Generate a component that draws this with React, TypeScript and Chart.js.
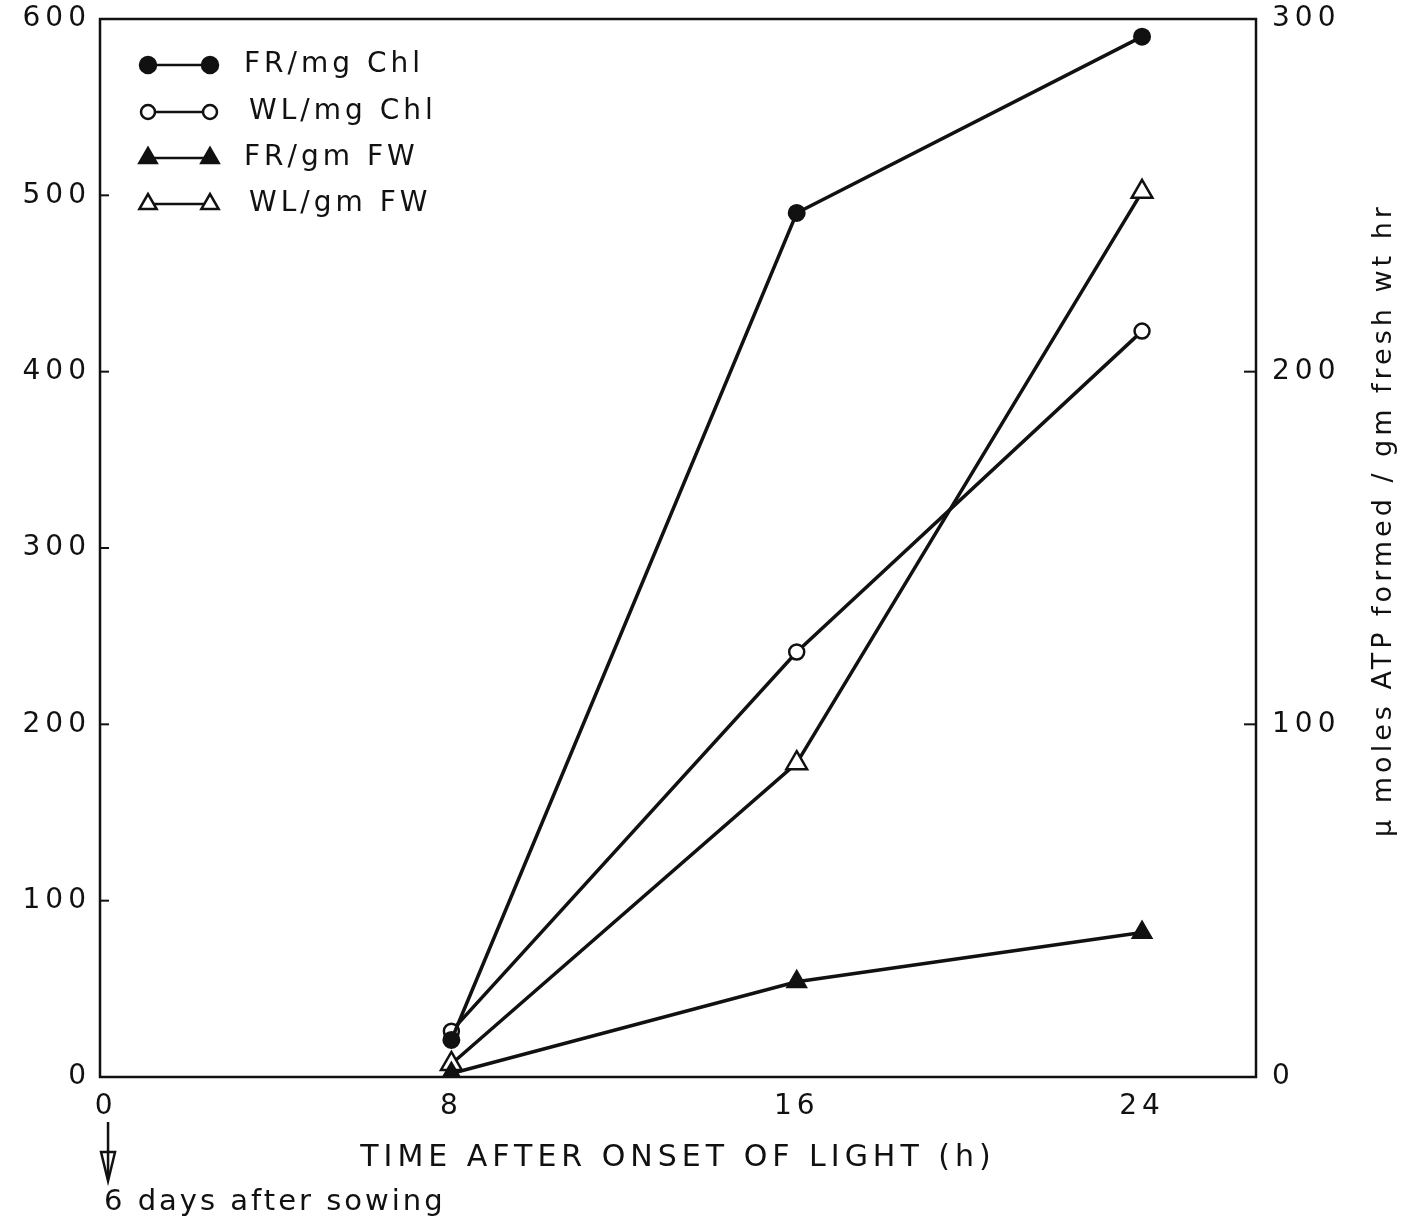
import React, { useEffect, useRef } from "react";
import { Chart, registerables } from "chart.js";

Chart.register(...registerables);

// ---- data ----
const hours = [8, 16, 24];
const frPerChl = [21, 490, 590]; // left axis
const wlPerChl = [26, 241, 423]; // left axis
const frPerFW = [1, 27, 41]; // right axis
const wlPerFW = [3.7, 89, 251]; // right axis
const seriesLabels = ["FR/mg Chl", "WL/mg Chl", "FR/gm FW", "WL/gm FW"];
const xTicks = [0, 8, 16, 24];
const leftTicks = [0, 100, 200, 300, 400, 500, 600];
const rightTicks = [0, 100, 200, 300];
const xTitle = "TIME AFTER ONSET OF LIGHT (h)";
const rightTitle = "\u03BC moles ATP formed / gm fresh wt hr";
const noteText = "6 days after sowing";

const FAMILY = "'DejaVu Sans', sans-serif";
const INK = "#111";

function drawMarker(ctx: CanvasRenderingContext2D, style: string, filled: boolean, x: number, y: number, r: number) {
  ctx.beginPath();
  if (style === "circle") {
    ctx.arc(x, y, r, 0, Math.PI * 2);
  } else {
    const edge = (3 * r) / Math.sqrt(3);
    const h = (edge * Math.sqrt(3)) / 2;
    ctx.moveTo(x - edge / 2, y + h / 3);
    ctx.lineTo(x + edge / 2, y + h / 3);
    ctx.lineTo(x, y - (2 * h) / 3);
    ctx.closePath();
  }
  ctx.fillStyle = filled ? INK : "#fff";
  ctx.fill();
  ctx.lineWidth = 2.5;
  ctx.strokeStyle = INK;
  ctx.stroke();
}

const legendStyles = [
  { style: "circle", filled: true, r: 8 },
  { style: "circle", filled: false, r: 7 },
  { style: "triangle", filled: true, r: 10 },
  { style: "triangle", filled: false, r: 10 },
];

const noPad = (s: any) => {
  s.paddingTop = 0;
  s.paddingBottom = 0;
  s.paddingLeft = 0;
  s.paddingRight = 0;
};

const decorPlugin = {
  id: "decor",
  beforeDraw(chart: any) {
    const ctx = chart.ctx;
    ctx.save();
    ctx.fillStyle = "#fff";
    ctx.fillRect(0, 0, chart.width, chart.height);
    ctx.restore();
    ctx.letterSpacing = "5px";
  },
  beforeDatasetsDraw(chart: any) {
    const { ctx, chartArea } = chart;
    const { left, right, top, bottom } = chartArea;
    ctx.save();
    ctx.strokeStyle = INK;
    ctx.lineWidth = 2.5;
    ctx.strokeRect(left, top, right - left, bottom - top);
    const yl = chart.scales.y;
    const yr = chart.scales.y1;
    ctx.lineWidth = 2;
    leftTicks.forEach((v) => {
      const py = yl.getPixelForValue(v);
      ctx.beginPath();
      ctx.moveTo(left, py);
      ctx.lineTo(left + 9, py);
      ctx.stroke();
    });
    rightTicks.forEach((v) => {
      const py = yr.getPixelForValue(v);
      ctx.beginPath();
      ctx.moveTo(right, py);
      ctx.lineTo(right - 12, py);
      ctx.stroke();
    });
    ctx.restore();
  },
  afterDraw(chart: any) {
    const { ctx } = chart;
    ctx.save();
    // legend
    const rowsY = [65, 112, 158, 204];
    const x1 = 148;
    const x2 = 210;
    seriesLabels.forEach((label, i) => {
      const y = rowsY[i];
      const st = legendStyles[i];
      ctx.strokeStyle = INK;
      ctx.lineWidth = 2.5;
      ctx.beginPath();
      ctx.moveTo(x1, y);
      ctx.lineTo(x2, y);
      ctx.stroke();
      drawMarker(ctx, st.style, st.filled, x1, y, st.r);
      drawMarker(ctx, st.style, st.filled, x2, y, st.r);
      ctx.fillStyle = INK;
      ctx.font = `28px ${FAMILY}`;
      (ctx as any).letterSpacing = "4px";
      ctx.textAlign = "left";
      ctx.textBaseline = "middle";
      ctx.fillText(label, i % 2 === 1 ? 249 : 244, y);
    });
    // right axis title (reads bottom to top)
    ctx.save();
    ctx.translate(1391, 520);
    ctx.rotate(-Math.PI / 2);
    ctx.font = `27px ${FAMILY}`;
    (ctx as any).letterSpacing = "4px";
    ctx.textAlign = "center";
    ctx.textBaseline = "alphabetic";
    ctx.fillStyle = INK;
    ctx.fillText(rightTitle, 0, 0);
    ctx.restore();
    // arrow from x=0 to note
    const x0 = chart.scales.x.getPixelForValue(0) + 2;
    ctx.strokeStyle = INK;
    ctx.lineWidth = 2.5;
    ctx.beginPath();
    ctx.moveTo(x0, 1122);
    ctx.lineTo(x0, 1176);
    ctx.stroke();
    ctx.beginPath();
    ctx.moveTo(x0 - 7, 1152);
    ctx.lineTo(x0 + 7, 1152);
    ctx.lineTo(x0, 1181);
    ctx.closePath();
    ctx.stroke();
    ctx.font = `29px ${FAMILY}`;
    (ctx as any).letterSpacing = "3px";
    ctx.textAlign = "left";
    ctx.textBaseline = "alphabetic";
    ctx.fillStyle = INK;
    ctx.fillText(noteText, 104, 1210);
    ctx.restore();
  },
};

export default function App() {
  const ref = useRef<HTMLCanvasElement | null>(null);
  useEffect(() => {
    if (!ref.current) return;
    const mk = (arr: number[]) => hours.map((h, i) => ({ x: h, y: arr[i] }));
    const tickFont = { family: FAMILY, size: 28 };
    const chart = new Chart(ref.current, {
      type: "line",
      data: {
        datasets: [
          {
            label: seriesLabels[0],
            data: mk(frPerChl),
            yAxisID: "y",
            borderColor: INK,
            borderWidth: 3.5,
            pointStyle: "circle",
            pointRadius: 8,
            pointBackgroundColor: INK,
            pointBorderColor: INK,
            pointBorderWidth: 2,
          },
          {
            label: seriesLabels[1],
            data: mk(wlPerChl),
            yAxisID: "y",
            borderColor: INK,
            borderWidth: 3.5,
            pointStyle: "circle",
            pointRadius: 7.5,
            pointBackgroundColor: "#fff",
            pointBorderColor: INK,
            pointBorderWidth: 2.5,
          },
          {
            label: seriesLabels[2],
            data: mk(frPerFW),
            yAxisID: "y1",
            borderColor: INK,
            borderWidth: 3.5,
            pointStyle: "triangle",
            pointRadius: 11,
            pointBackgroundColor: INK,
            pointBorderColor: INK,
            pointBorderWidth: 2,
          },
          {
            label: seriesLabels[3],
            data: mk(wlPerFW),
            yAxisID: "y1",
            borderColor: INK,
            borderWidth: 3.5,
            pointStyle: "triangle",
            pointRadius: 12,
            pointBackgroundColor: "#fff",
            pointBorderColor: INK,
            pointBorderWidth: 2.5,
          },
        ],
      },
      options: {
        animation: false,
        responsive: false,
        maintainAspectRatio: false,
        layout: { padding: { top: 19, left: 0, right: 0, bottom: 0 } },
        plugins: { legend: { display: false }, tooltip: { enabled: false } },
        elements: { line: { tension: 0 } },
        scales: {
          x: {
            type: "linear",
            min: -0.14,
            max: 26.64,
            afterBuildTicks: (s: any) => {
              s.ticks = xTicks.map((v) => ({ value: v }));
            },
            afterFit: (s: any) => {
              s.height = 142;
              noPad(s);
            },
            grid: { display: false, drawTicks: false },
            border: { display: false },
            ticks: { font: tickFont, color: INK, padding: 13, maxRotation: 0, autoSkip: false },
            title: {
              display: true,
              text: xTitle,
              color: INK,
              font: { family: FAMILY, size: 30 },
              padding: { top: 0, bottom: 43 },
            },
          },
          y: {
            position: "left",
            min: 0,
            max: 600,
            afterBuildTicks: (s: any) => {
              s.ticks = leftTicks.map((v) => ({ value: v }));
            },
            afterFit: (s: any) => {
              s.width = 100;
              noPad(s);
            },
            grid: { display: false, drawTicks: false },
            border: { display: false },
            ticks: { font: tickFont, color: INK, padding: 9 },
          },
          y1: {
            position: "right",
            min: 0,
            max: 300,
            afterBuildTicks: (s: any) => {
              s.ticks = rightTicks.map((v) => ({ value: v }));
            },
            afterFit: (s: any) => {
              s.width = 161;
              noPad(s);
            },
            grid: { display: false, drawTicks: false },
            border: { display: false },
            ticks: { font: tickFont, color: INK, padding: 16 },
          },
        },
      } as any,
      plugins: [decorPlugin],
    });
    return () => chart.destroy();
  }, []);
  return (
    <div style={{ position: "absolute", left: 0, top: 0, width: 1417, height: 1219, background: "#fff" }}>
      <canvas ref={ref} width={1417} height={1219} style={{ width: 1417, height: 1219, display: "block" }} />
    </div>
  );
}
